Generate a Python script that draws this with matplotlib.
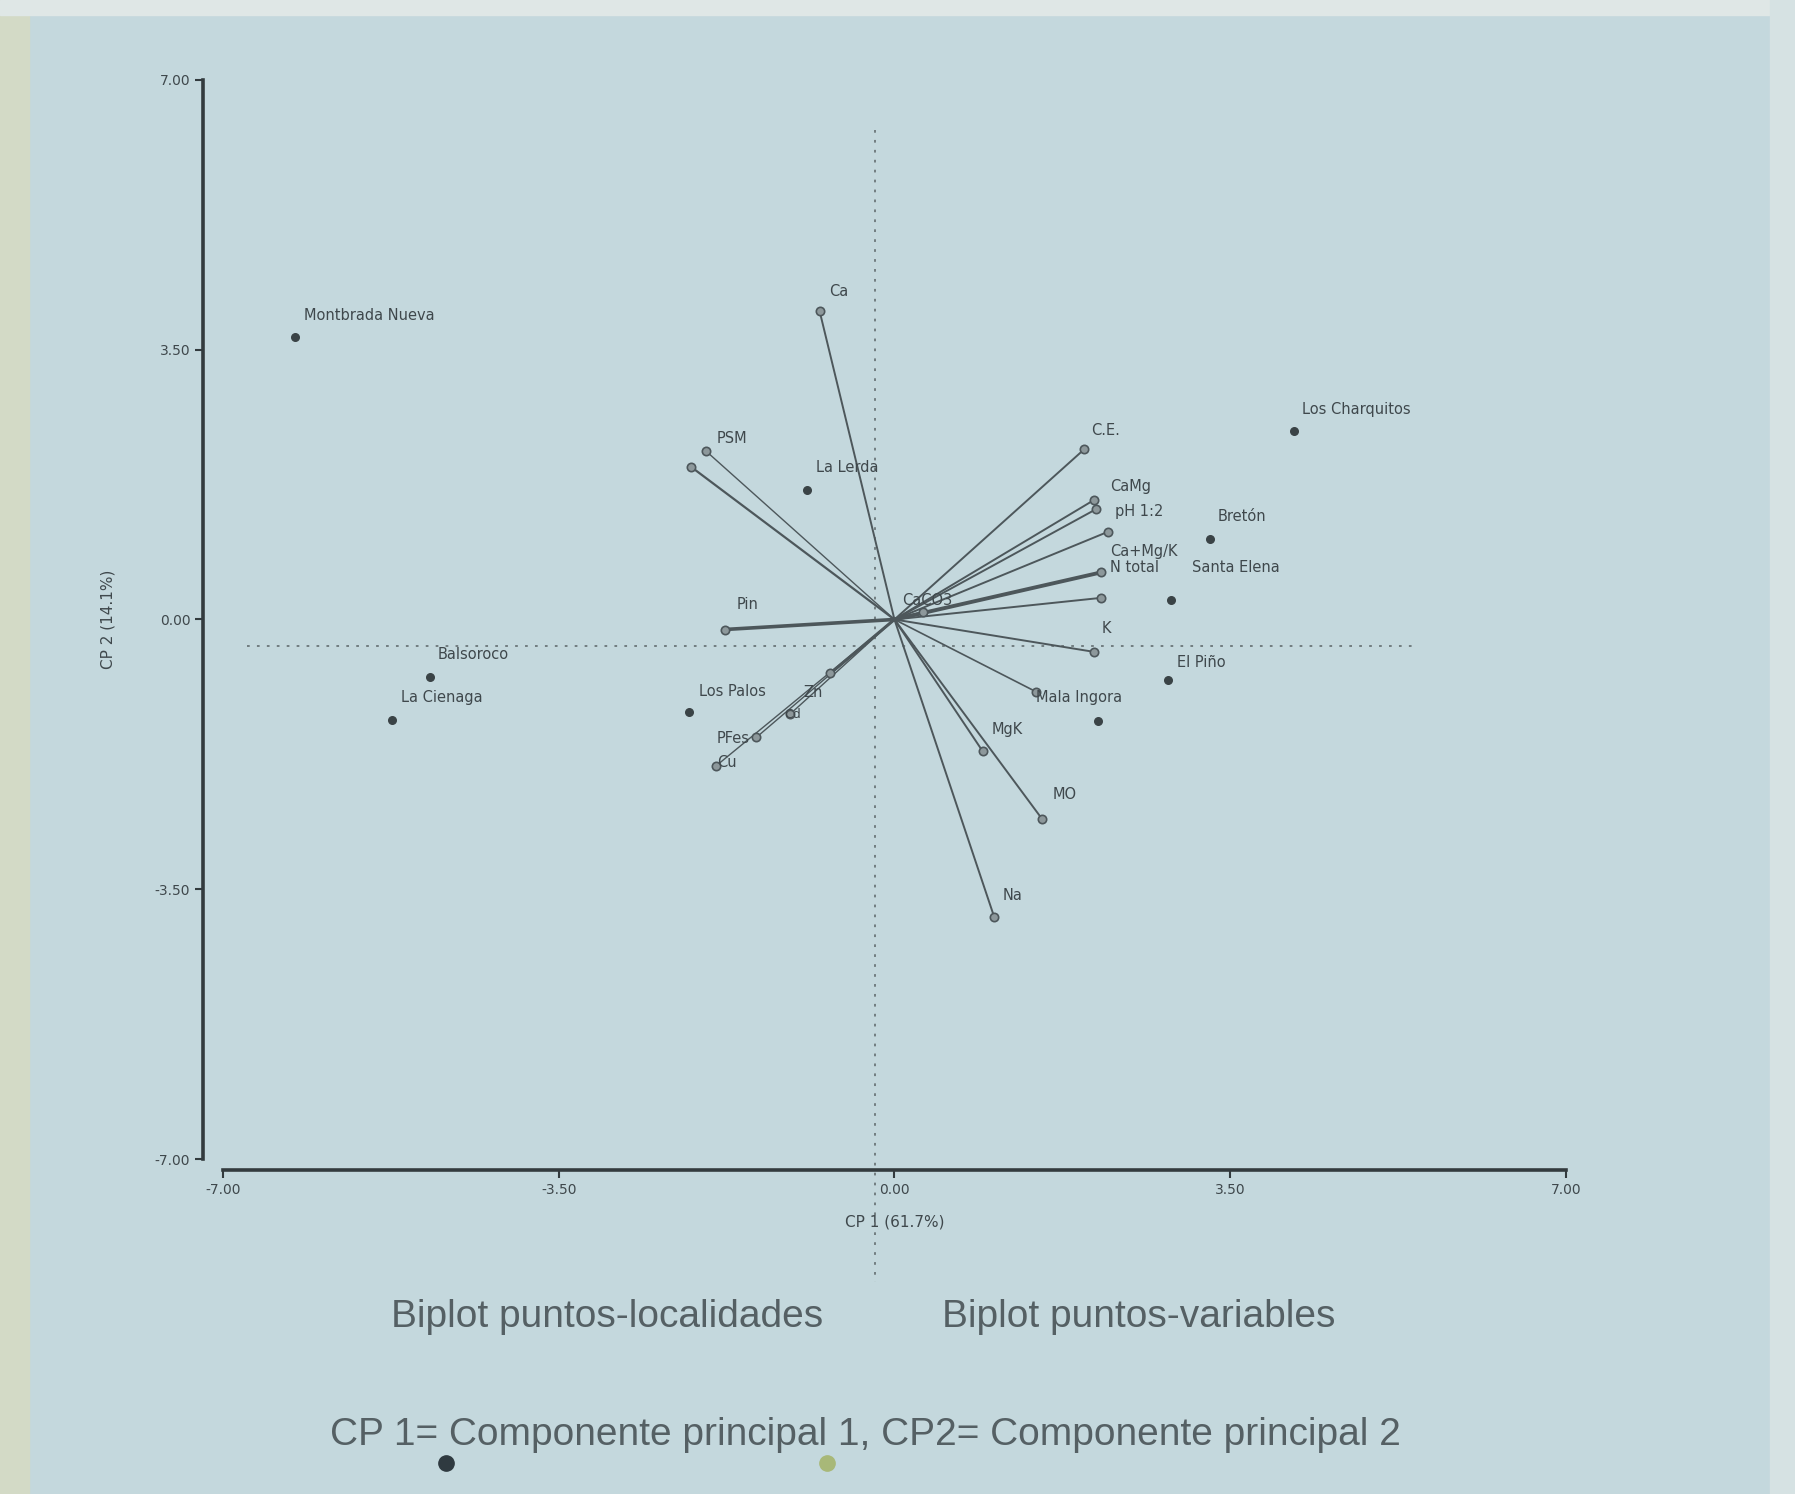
import matplotlib
matplotlib.use("Agg")
import matplotlib.pyplot as plt
from matplotlib.patches import Rectangle
from matplotlib.lines import Line2D

# ---------------- data ----------------
# localities (points)
loc_names = ["Montbrada Nueva", "Los Charquitos", "La Lerda", "Balsoroco",
             "La Cienaga", "Los Palos", "El Piño", "Mala Ingora", "Bretón",
             "Santa Elena"]
loc_x = [-6.25, 4.16, -0.91, -4.84, -5.24, -2.14, 2.85, 2.12, 3.29, 2.88]
loc_y = [3.67, 2.44, 1.68, -0.74, -1.31, -1.20, -0.79, -1.32, 1.05, 0.25]
loc_lab_x = [-6.15, 4.25, -0.82, -4.76, -5.14, -2.04, 2.95, 1.48, 3.37, 3.10]
loc_lab_y = [3.95, 2.72, 1.97, -0.45, -1.01, -0.94, -0.56, -1.01, 1.34, 0.67]

# variables (vectors from origin)
var_names = ["Ca", "PSM", "", "C.E.", "CaMg", "pH 1:2", "Ca+Mg/K", "N total",
             "", "K", "", "MgK", "MO", "Na", "Pin", "Zn", "Cd", "PFes", "Cu",
             "CaCO3"]
var_x = [-0.78, -2.12, -1.96, 1.98, 2.08, 2.10, 2.23, 2.15, 2.15, 2.08, 1.48,
         0.92, 1.54, 1.04, -1.77, -0.67, -1.09, -1.44, -1.86, 0.30]
var_y = [4.00, 1.98, 2.18, 2.21, 1.55, 1.43, 1.14, 0.61, 0.28, -0.42, -0.94,
         -1.71, -2.59, -3.86, -0.13, -0.70, -1.23, -1.53, -1.90, 0.10]
var_lab_x = [-0.68, -1.85, -1.75, 2.05, 2.25, 2.30, 2.25, 2.25, 0, 2.16, 0,
             1.01, 1.65, 1.13, -1.65, -0.95, -1.15, -1.85, -1.85, 0.08]
var_lab_y = [4.25, 2.35, 2.10, 2.45, 1.72, 1.40, 0.88, 0.67, 0, -0.12, 0,
             -1.43, -2.27, -3.58, 0.19, -0.95, -1.23, -1.55, -1.85, 0.25]
var_lw = [1.4, 1.6, 1.0, 1.4, 1.4, 1.4, 1.4, 2.8, 1.4, 1.4, 1.2, 1.4, 1.4,
          1.4, 2.6, 2.2, 1.0, 1.0, 1.0, 1.4]

ticks = [-7.0, -3.5, 0.0, 3.5, 7.0]
tick_labels = ["-7.00", "-3.50", "0.00", "3.50", "7.00"]
xlabel = "CP 1 (61.7%)"
ylabel = "CP 2 (14.1%)"

# ---------------- figure ----------------
bg = "#c4d8dd"
txt = "#3f484c"
fig = plt.figure(figsize=(17.95, 14.94), dpi=100, facecolor=bg)
# photo borders
fig.patches.append(Rectangle((0, 0), 0.016, 1, transform=fig.transFigure,
                             color="#d3dac6", zorder=0))
fig.patches.append(Rectangle((0, 0.99), 1, 0.01, transform=fig.transFigure,
                             color="#dfe7e6", zorder=0))
fig.patches.append(Rectangle((0.986, 0), 0.014, 1, transform=fig.transFigure,
                             color="#d6e2e3", zorder=0))

ax = fig.add_axes([0.1242, 0.2242, 0.7482, 0.7223])
ax.set_facecolor("none")
ax.set_xlim(-7, 7)
ax.set_ylim(-7, 7)
for s in ["top", "right"]:
    ax.spines[s].set_visible(False)
ax.spines["left"].set_position(("outward", 14))
ax.spines["bottom"].set_position(("outward", 8))
ax.spines["left"].set_bounds(-7, 7)
ax.spines["bottom"].set_bounds(-7, 7)
for s in ["left", "bottom"]:
    ax.spines[s].set_linewidth(2.6)
    ax.spines[s].set_color("#333b3e")
ax.set_xticks(ticks)
ax.set_xticklabels(tick_labels)
ax.set_yticks(ticks)
ax.set_yticklabels(tick_labels)
ax.tick_params(direction="out", length=6, width=1.5, colors="#333b3e",
               labelsize=10, labelcolor=txt)
ax.set_xlabel(xlabel, fontsize=11, color=txt, labelpad=12)
ax.set_ylabel(ylabel, fontsize=11, color=txt, labelpad=28)

# dotted reference lines
ax.plot([-6.75, 5.42], [-0.35, -0.35], ls=(0, (1.5, 4)), color="#6b7679",
        lw=1.3)
ax.plot([-0.2, -0.2], [6.35, -8.6], ls=(0, (1.5, 4)), color="#6b7679",
        lw=1.3, clip_on=False)

# variable vectors
for n, x, y, lx, ly, lw in zip(var_names, var_x, var_y, var_lab_x,
                               var_lab_y, var_lw):
    ax.plot([0, x], [0, y], color="#4d575b", lw=lw, solid_capstyle="round",
            zorder=3)
    ax.plot([x], [y], marker="o", ms=6, mfc="#8d989b", mec="#4d575b",
            mew=1.2, zorder=4)
    if n:
        small = n in ("Cd", "")
        ax.text(lx, ly, n, fontsize=9 if small else 10.5, color=txt,
                ha="left", va="center", zorder=5)

# locality points
ax.scatter(loc_x, loc_y, s=30, color="#3a4346", zorder=5)
for n, lx, ly in zip(loc_names, loc_lab_x, loc_lab_y):
    ax.text(lx, ly, n, fontsize=10.5, color=txt, ha="left", va="center",
            zorder=5)

# captions
cap = "#556064"
fig.text(0.338, 0.1185, "Biplot puntos-localidades", fontsize=28,
         family="Liberation Sans", color=cap, ha="center", va="center")
fig.text(0.6345, 0.1185, "Biplot puntos-variables", fontsize=28,
         family="Liberation Sans", color=cap, ha="center", va="center")
fig.text(0.4822, 0.0398,
         "CP 1= Componente principal 1, CP2= Componente principal 2",
         fontsize=28, family="Liberation Sans", color=cap, ha="center",
         va="center")
fig.add_artist(Line2D([0.2485], [0.0207], marker="o", ms=11, color="#2f3a40",
                      transform=fig.transFigure, ls="none"))
fig.add_artist(Line2D([0.4607], [0.0207], marker="o", ms=11, color="#a8b878",
                      transform=fig.transFigure, ls="none"))

fig.savefig("out.png", dpi=100, facecolor=fig.get_facecolor())
